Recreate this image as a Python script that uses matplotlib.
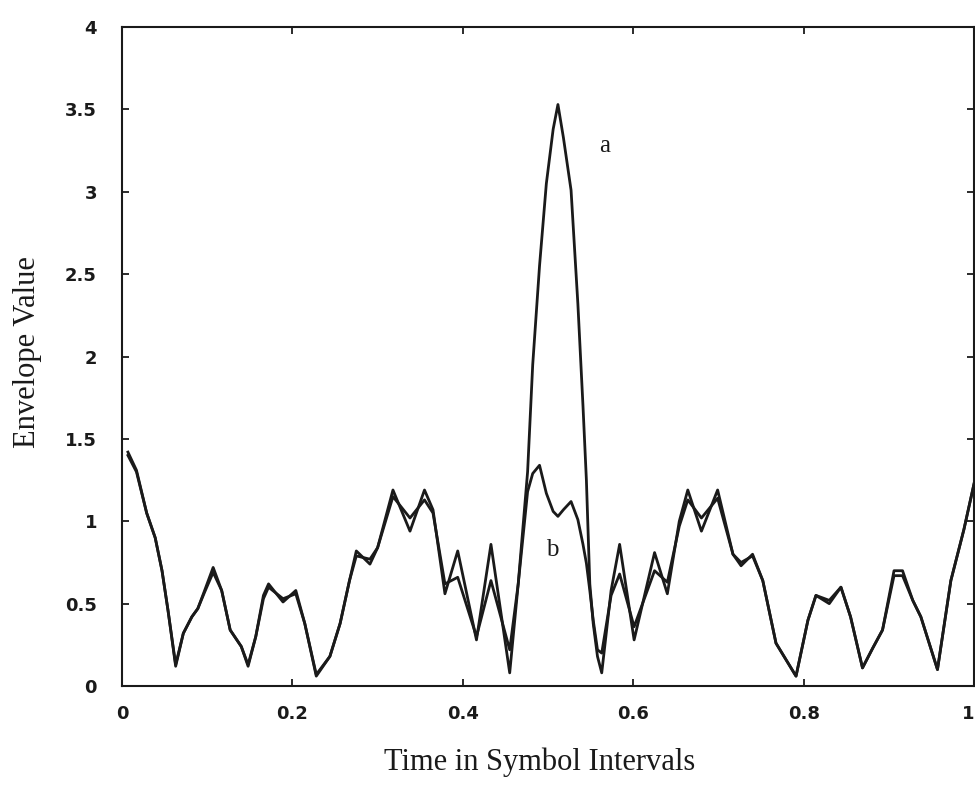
import matplotlib
matplotlib.use("Agg")
import matplotlib.pyplot as plt
import numpy as np

# time axis shared by both envelopes (symbol intervals)
t = [0.007, 0.017, 0.029, 0.039, 0.047, 0.054, 0.063, 0.072, 0.082, 0.089,
     0.097, 0.107, 0.117, 0.127, 0.140, 0.148, 0.157, 0.166, 0.172, 0.189,
     0.204, 0.2145, 0.228, 0.244, 0.256, 0.267, 0.275, 0.291, 0.300, 0.318,
     0.338, 0.355, 0.365, 0.379, 0.394, 0.416, 0.433, 0.455, 0.465, 0.476,
     0.482, 0.490, 0.498, 0.506, 0.5116, 0.518, 0.527, 0.535, 0.541, 0.545,
     0.549, 0.553, 0.558, 0.563, 0.574, 0.584, 0.601, 0.625, 0.640, 0.654,
     0.664, 0.680, 0.699, 0.717, 0.7265, 0.740, 0.752, 0.7675, 0.791, 0.805,
     0.8144, 0.830, 0.8437, 0.855, 0.869, 0.881, 0.8925, 0.906, 0.916, 0.928,
     0.9375, 0.957, 0.9727, 0.988, 1.0]

env_a = [1.42, 1.31, 1.05, 0.90, 0.70, 0.46, 0.12, 0.32, 0.42, 0.47,
         0.58, 0.72, 0.58, 0.34, 0.24, 0.12, 0.30, 0.55, 0.62, 0.51,
         0.58, 0.38, 0.06, 0.18, 0.38, 0.64, 0.82, 0.74, 0.84, 1.19,
         0.94, 1.19, 1.07, 0.56, 0.82, 0.28, 0.86, 0.08, 0.62, 1.30,
         1.95, 2.55, 3.05, 3.38, 3.53, 3.33, 3.01, 2.32, 1.70, 1.25,
         0.62, 0.38, 0.18, 0.08, 0.58, 0.86, 0.28, 0.81, 0.56, 1.00,
         1.19, 0.94, 1.19, 0.80, 0.73, 0.80, 0.64, 0.26, 0.06, 0.40,
         0.55, 0.50, 0.60, 0.42, 0.11, 0.23, 0.34, 0.70, 0.70, 0.52,
         0.42, 0.10, 0.64, 0.95, 1.23]

env_b = [1.40, 1.30, 1.05, 0.90, 0.70, 0.46, 0.13, 0.32, 0.42, 0.47,
         0.57, 0.69, 0.58, 0.34, 0.24, 0.13, 0.30, 0.53, 0.60, 0.53,
         0.56, 0.38, 0.07, 0.18, 0.38, 0.64, 0.79, 0.77, 0.84, 1.15,
         1.02, 1.13, 1.05, 0.62, 0.66, 0.30, 0.64, 0.22, 0.62, 1.18,
         1.29, 1.34, 1.17, 1.06, 1.03, 1.07, 1.12, 1.01, 0.86, 0.745,
         0.58, 0.40, 0.22, 0.20, 0.55, 0.68, 0.36, 0.70, 0.63, 0.97,
         1.13, 1.02, 1.14, 0.80, 0.75, 0.79, 0.64, 0.26, 0.06, 0.40,
         0.55, 0.52, 0.60, 0.42, 0.11, 0.23, 0.34, 0.67, 0.67, 0.52,
         0.42, 0.10, 0.64, 0.95, 1.23]

x_ticks = [0, 0.2, 0.4, 0.6, 0.8, 1]
x_labels = ["0", "0.2", "0.4", "0.6", "0.8", "1"]
y_ticks = [0, 0.5, 1, 1.5, 2, 2.5, 3, 3.5, 4]
y_labels = ["0", "0.5", "1", "1.5", "2", "2.5", "3", "3.5", "4"]

fig = plt.figure(figsize=(9.75, 7.92), dpi=100)
ax = fig.add_axes([0.1251, 0.1338, 0.874, 0.832])

ax.plot(t, env_a, color="#1a1a1a", linewidth=2.0, solid_joinstyle="round")
ax.plot(t, env_b, color="#1a1a1a", linewidth=2.0, solid_joinstyle="round")

ax.set_xlim(0, 1)
ax.set_ylim(0, 4)
ax.set_xticks(x_ticks)
ax.set_xticklabels(x_labels)
ax.set_yticks(y_ticks)
ax.set_yticklabels(y_labels)

ax.tick_params(axis="both", direction="in", length=5, width=1.3,
               top=True, right=True, labelsize=13, colors="#1a1a1a")
ax.tick_params(axis="y", pad=18)
ax.tick_params(axis="x", pad=14)
for lab in ax.get_xticklabels() + ax.get_yticklabels():
    lab.set_fontweight("bold")
    lab.set_family("DejaVu Sans")
# last x label sits on the right edge of the figure
ax.get_xticklabels()[-1].set_horizontalalignment("right")

for s in ax.spines.values():
    s.set_linewidth(1.5)
    s.set_color("#1a1a1a")

ax.text(0.566, 3.28, "a", fontsize=18, family="Liberation Serif", color="#1a1a1a",
        ha="center", va="center")
ax.text(0.505, 0.825, "b", fontsize=18, family="Liberation Serif", color="#1a1a1a",
        ha="center", va="center")

fig.text(540 / 975, 1 - 762 / 792, "Time in Symbol Intervals", fontsize=22,
         family="Liberation Serif", ha="center", va="center", color="#1a1a1a")
fig.text(28 / 975, 1 - 352 / 792, "Envelope Value", fontsize=22, rotation=90,
         family="Liberation Serif", ha="center", va="center", color="#1a1a1a")

fig.savefig("out.png", dpi=100)
